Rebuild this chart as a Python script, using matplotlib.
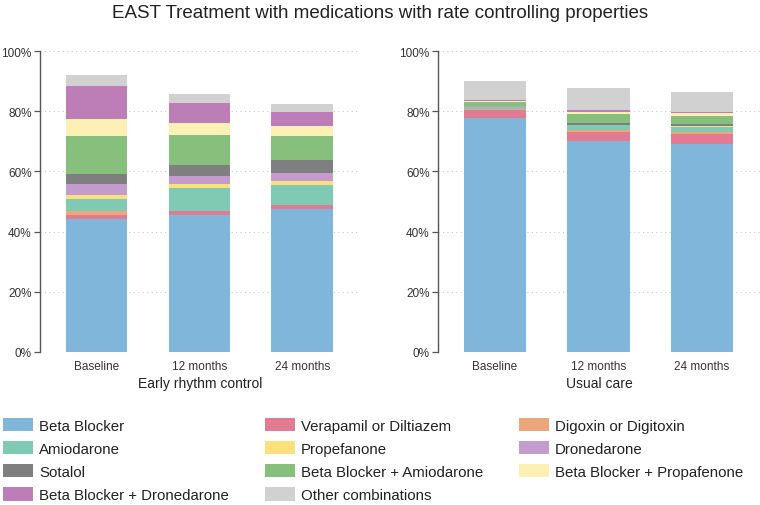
import matplotlib
matplotlib.use("Agg")
import matplotlib.pyplot as plt
from matplotlib.patches import Patch
import numpy as np

plt.rcParams['font.family'] = ['Liberation Sans', 'DejaVu Sans']

timepoints = ["Baseline", "12 months", "24 months"]
groups = ["Early rhythm control", "Usual care"]
categories = ["Beta Blocker", "Verapamil or Diltiazem", "Digoxin or Digitoxin",
              "Amiodarone", "Propefanone", "Dronedarone", "Sotalol",
              "Beta Blocker + Amiodarone", "Beta Blocker + Propafenone",
              "Beta Blocker + Dronedarone", "Other combinations"]
colors = ["#80b6d9", "#e07b91", "#eaa77a", "#80c9b3", "#fde07c", "#c39ccd",
          "#7f7f7f", "#86c07c", "#fdf0b4", "#bd7db6", "#d1d1d1"]

# values in percent, one list per category, order: Baseline, 12 months, 24 months
early_bb = [44.2, 45.6, 47.6]
early_verap = [1.4, 1.2, 1.1]
early_digox = [1.3, 0.2, 0.3]
early_amio = [3.8, 7.4, 6.6]
early_propaf = [1.6, 1.4, 1.2]
early_dron = [3.6, 2.8, 2.8]
early_sotalol = [3.1, 3.5, 4.1]
early_bb_amio = [12.9, 10.1, 8.2]
early_bb_propaf = [5.5, 4.0, 3.2]
early_bb_dron = [11.0, 6.4, 4.6]
early_other = [3.5, 3.1, 2.8]

usual_bb = [77.8, 70.1, 69.1]
usual_verap = [2.5, 2.9, 3.4]
usual_digox = [0.3, 0.6, 0.7]
usual_amio = [0.8, 1.7, 1.6]
usual_propaf = [0.1, 0.1, 0.2]
usual_dron = [0.1, 0.1, 0.1]
usual_sotalol = [0.1, 0.5, 0.7]
usual_bb_amio = [1.5, 3.0, 2.6]
usual_bb_propaf = [0.1, 0.9, 1.0]
usual_bb_dron = [0.3, 0.5, 0.3]
usual_other = [6.4, 7.2, 6.8]

early = [early_bb, early_verap, early_digox, early_amio, early_propaf, early_dron,
         early_sotalol, early_bb_amio, early_bb_propaf, early_bb_dron, early_other]
usual = [usual_bb, usual_verap, usual_digox, usual_amio, usual_propaf, usual_dron,
         usual_sotalol, usual_bb_amio, usual_bb_propaf, usual_bb_dron, usual_other]

fig = plt.figure(figsize=(7.6, 5.06), dpi=100)
ax1 = fig.add_axes([0.0526, 0.3024, 0.421, 0.5948])
ax2 = fig.add_axes([0.5763, 0.3024, 0.4237, 0.5948])

spine_col = "#555555"
for ax, data, grp in [(ax1, early, groups[0]), (ax2, usual, groups[1])]:
    x = np.arange(len(timepoints))
    bottom = np.zeros(len(timepoints))
    for vals, col in zip(data, colors):
        v = np.array(vals)
        ax.bar(x, v, 0.6, bottom=bottom, color=col, edgecolor='none', zorder=2)
        bottom += v
    ax.set_xlim(-0.55, 2.56)
    ax.set_ylim(0, 100)
    ax.set_yticks([0, 20, 40, 60, 80, 100])
    ax.set_yticklabels([f"{t}%" for t in [0, 20, 40, 60, 80, 100]], fontsize=8.5, color="#333333")
    ax.set_xticks(x)
    ax.set_xticklabels(timepoints, fontsize=8.5, color="#333333")
    ax.tick_params(axis='x', length=0, pad=6)
    ax.tick_params(axis='y', length=4, color=spine_col, width=0.9, pad=2)
    for s in ['top', 'right', 'bottom']:
        ax.spines[s].set_visible(False)
    ax.spines['left'].set_color(spine_col)
    ax.spines['left'].set_linewidth(1.0)
    ax.grid(axis='y', linestyle=(0, (1, 3)), color="#c8c8c8", linewidth=0.8, zorder=0)
    ax.set_axisbelow(True)
    ax.set_xlabel(grp, fontsize=10, color="#222222", labelpad=3)

fig.text(0.5, 0.99, "EAST Treatment with medications with rate controlling properties",
         ha='center', va='top', fontsize=13.5, color="#222222")

handles = [Patch(facecolor=c, edgecolor='none', label=l) for c, l in zip(colors, categories)]
order = [0, 3, 6, 9, 1, 4, 7, 10, 2, 5, 8]
fig.legend([handles[i] for i in order], [categories[i] for i in order],
           loc='lower left', bbox_to_anchor=(0.0, 0.0), ncol=3, frameon=False,
           fontsize=10.8, handlelength=2.0, handleheight=1.0, handletextpad=0.4,
           columnspacing=2.4, labelspacing=0.55, borderaxespad=0.0, borderpad=0.2,
           labelcolor="#222222")

fig.savefig("out.png", dpi=100)
